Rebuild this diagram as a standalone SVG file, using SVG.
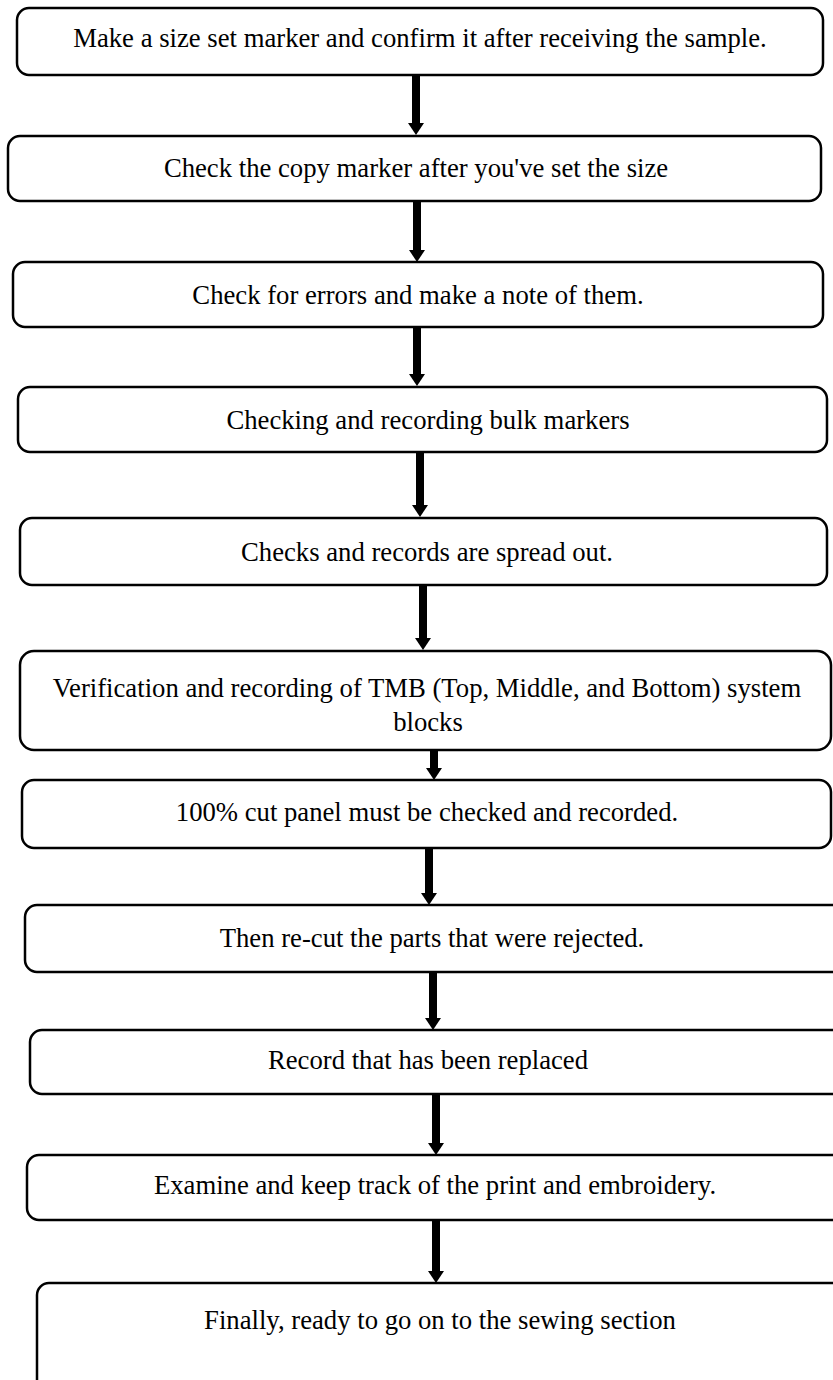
<svg xmlns="http://www.w3.org/2000/svg" width="833" height="1380" viewBox="0 0 833 1380">
  <style>
    .box { fill: #ffffff; stroke: #000000; stroke-width: 2.5; }
    .label { font-family: "Liberation Serif", "Times New Roman", serif; font-size: 26.7px; fill: #000000; text-anchor: middle; }
    .conn { stroke: #000000; stroke-width: 8; fill: none; }
  </style>
  <defs>
    <marker id="head" viewBox="0 -8 12 16" refX="0" refY="0" markerWidth="12" markerHeight="16" markerUnits="userSpaceOnUse" orient="auto">
      <path d="M0,-8 L12,0 L0,8 Z" fill="#000000"/>
    </marker>
  </defs>
  <rect width="833" height="1380" fill="#ffffff"/>

  <!-- downward flow arrows between consecutive steps -->
  <g id="connectors">
    <line class="conn" x1="416" y1="75" x2="416" y2="123" marker-end="url(#head)"/>
    <line class="conn" x1="417" y1="202" x2="417" y2="250" marker-end="url(#head)"/>
    <line class="conn" x1="417" y1="328" x2="417" y2="374" marker-end="url(#head)"/>
    <line class="conn" x1="420" y1="453" x2="420" y2="505" marker-end="url(#head)"/>
    <line class="conn" x1="423" y1="586" x2="423" y2="638" marker-end="url(#head)"/>
    <line class="conn" x1="434" y1="750" x2="434" y2="768" marker-end="url(#head)"/>
    <line class="conn" x1="429" y1="849" x2="429" y2="893" marker-end="url(#head)"/>
    <line class="conn" x1="433" y1="973" x2="433" y2="1018" marker-end="url(#head)"/>
    <line class="conn" x1="436" y1="1095" x2="436" y2="1143" marker-end="url(#head)"/>
    <line class="conn" x1="436" y1="1221" x2="436" y2="1271" marker-end="url(#head)"/>
  </g>

  <g id="step1">
    <rect class="box" x="17" y="8" width="806" height="67" rx="12"/>
    <text class="label" x="420" y="47">Make a size set marker and confirm it after receiving the sample.</text>
  </g>
  <g id="step2">
    <rect class="box" x="8" y="136" width="813" height="65" rx="12"/>
    <text class="label" x="416" y="177">Check the copy marker after you've set the size</text>
  </g>
  <g id="step3">
    <rect class="box" x="13" y="262" width="810" height="65" rx="12"/>
    <text class="label" x="418" y="304">Check for errors and make a note of them.</text>
  </g>
  <g id="step4">
    <rect class="box" x="18" y="387" width="809" height="65" rx="12"/>
    <text class="label" x="428" y="429">Checking and recording bulk markers</text>
  </g>
  <g id="step5">
    <rect class="box" x="20" y="518" width="807" height="67" rx="12"/>
    <text class="label" x="427" y="561">Checks and records are spread out.</text>
  </g>
  <g id="step6">
    <rect class="box" x="20" y="651" width="811" height="99" rx="14"/>
    <text class="label" x="427" y="697">Verification and recording of TMB (Top, Middle, and Bottom) system</text>
    <text class="label" x="428" y="731">blocks</text>
  </g>
  <g id="step7">
    <rect class="box" x="22" y="780" width="809" height="68" rx="12"/>
    <text class="label" x="427" y="821">100% cut panel must be checked and recorded.</text>
  </g>
  <g id="step8">
    <rect class="box" x="25" y="905" width="820" height="67" rx="12"/>
    <text class="label" x="432" y="947">Then re-cut the parts that were rejected.</text>
  </g>
  <g id="step9">
    <rect class="box" x="30" y="1030" width="815" height="64" rx="12"/>
    <text class="label" x="428" y="1069">Record that has been replaced</text>
  </g>
  <g id="step10">
    <rect class="box" x="27" y="1155" width="818" height="65" rx="12"/>
    <text class="label" x="435" y="1194">Examine and keep track of the print and embroidery.</text>
  </g>
  <g id="step11">
    <rect class="box" x="37" y="1283" width="808" height="110" rx="12"/>
    <text class="label" x="440" y="1329">Finally, ready to go on to the sewing section</text>
  </g>
</svg>
